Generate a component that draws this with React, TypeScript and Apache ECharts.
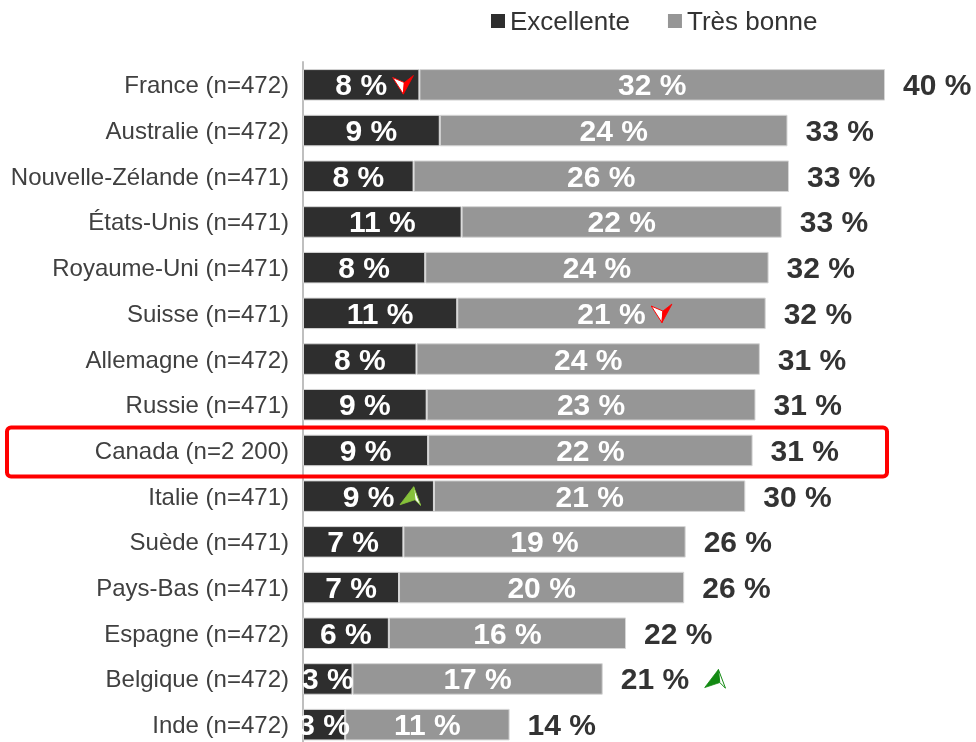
import React, { useEffect, useRef } from "react";
import * as echarts from "echarts";

const categories = [
  "France (n=472)",
  "Australie (n=472)",
  "Nouvelle-Zélande (n=471)",
  "États-Unis (n=471)",
  "Royaume-Uni (n=471)",
  "Suisse (n=471)",
  "Allemagne (n=472)",
  "Russie (n=471)",
  "Canada (n=2 200)",
  "Italie (n=471)",
  "Suède (n=471)",
  "Pays-Bas (n=471)",
  "Espagne (n=472)",
  "Belgique (n=472)",
  "Inde (n=472)",
];

// Excellente (%)
const excellente = [8.0, 9.4, 7.6, 10.9, 8.4, 10.6, 7.8, 8.5, 8.6, 9.0, 6.9, 6.6, 5.9, 3.4, 2.9];
// Très bonne (%)
const tresBonne = [32.0, 23.9, 25.8, 22.0, 23.6, 21.2, 23.6, 22.6, 22.3, 21.4, 19.4, 19.6, 16.3, 17.2, 11.3];

// Trend markers ("" = none)
const excTrend = ["down", "", "", "", "", "", "", "", "", "upLight", "", "", "", "", ""];
const tbTrend = ["", "", "", "", "", "down", "", "", "", "", "", "", "", "", ""];
const totalTrend = ["", "", "", "", "", "", "", "", "", "", "", "", "", "upDark", ""];

const highlight = "Canada (n=2 200)";

const FONT = "'Liberation Sans', Arial, Helvetica, sans-serif";

const svgUri = (s: string) => "data:image/svg+xml;charset=utf-8," + encodeURIComponent(s);

const downSvg = svgUri(
  "<svg xmlns='http://www.w3.org/2000/svg' width='22' height='20' viewBox='0 0 22 20'>" +
    "<polygon points='0.6,2.7 12.3,7.7 11.3,19.3' fill='#ffffff' stroke='#ff0000' stroke-width='1'/>" +
    "<polygon points='12.3,7.7 21.4,0.6 11.3,19.3' fill='#ff0000' stroke='#ff0000' stroke-width='0.8'/>" +
    "</svg>"
);
const upSvg = (c: string) =>
  svgUri(
    "<svg xmlns='http://www.w3.org/2000/svg' width='22' height='20' viewBox='0 0 22 20'>" +
      `<polygon points='14.3,0.6 0.6,18.6 15.7,13.6' fill='${c}' stroke='${c}' stroke-width='0.8'/>` +
      `<polygon points='14.3,0.6 15.7,13.6 21.4,19.3' fill='#ffffff' stroke='${c}' stroke-width='1'/>` +
      "</svg>"
  );

const arrowStyle = (img: string) => ({
  width: 22,
  height: 20,
  verticalAlign: "middle" as const,
  backgroundColor: { image: img },
});

const rich = {
  pad: { width: 27 },
  gap: { width: 5 },
  gap2: { width: 15 },
  down: arrowStyle(downSvg),
  upLight: arrowStyle(upSvg("#86c23a")),
  upDark: arrowStyle(upSvg("#138a13")),
};

const fmt = (v: number) => Math.round(v) + " %";

export default function App() {
  const ref = useRef<HTMLDivElement>(null);

  useEffect(() => {
    if (!ref.current) return;
    const chart = echarts.init(ref.current, null, { renderer: "svg" });
    const totals = excellente.map((v, i) => v + tresBonne[i]);

    const insideLabel = (trend: string[]) => ({
      show: true,
      position: "inside",
      color: "#ffffff",
      fontFamily: FONT,
      fontWeight: "bold",
      fontSize: 30,
      rich,
      formatter: (p: any) => {
        const t = trend[p.dataIndex];
        const txt = fmt(p.value);
        return t ? `{pad|}${txt}{gap|}{${t}|}` : txt;
      },
    });

    chart.setOption({
      animation: false,
      legend: {
        data: ["Excellente", "Très bonne"],
        left: 491,
        top: 8,
        padding: 0,
        icon: "rect",
        itemWidth: 14,
        itemHeight: 14,
        itemGap: 38,
        itemStyle: { borderWidth: 0 },
        textStyle: { fontFamily: FONT, fontSize: 26, color: "#333333" },
      },
      grid: { left: 303, top: 62, width: 654.75, height: 685.5, containLabel: false },
      xAxis: { type: "value", min: 0, max: 45, show: false },
      yAxis: {
        type: "category",
        inverse: true,
        data: categories,
        axisTick: { show: false },
        axisLine: { show: true, lineStyle: { color: "#bfbfbf", width: 2 } },
        axisLabel: { margin: 14, fontFamily: FONT, fontSize: 24, color: "#404040" },
      },
      series: [
        {
          name: "Excellente",
          type: "bar",
          stack: "a",
          barCategoryGap: "31%",
          barGap: "-100%",
          data: excellente,
          itemStyle: { color: "#2e2e2e", borderColor: "#d6d6d6", borderWidth: 1 },
          label: insideLabel(excTrend),
        },
        {
          name: "Très bonne",
          type: "bar",
          stack: "a",
          barCategoryGap: "31%",
          barGap: "-100%",
          data: tresBonne,
          itemStyle: { color: "#969696", borderColor: "#d6d6d6", borderWidth: 1 },
          label: insideLabel(tbTrend),
        },
        {
          name: "Total",
          type: "bar",
          barCategoryGap: "31%",
          barGap: "-100%",
          data: totals,
          silent: true,
          itemStyle: { color: "rgba(0,0,0,0)" },
          label: {
            show: true,
            position: "right",
            distance: 18,
            color: "#333333",
            fontFamily: FONT,
            fontWeight: "bold",
            fontSize: 30,
            rich,
            formatter: (p: any) => {
              const t = totalTrend[p.dataIndex];
              const txt = fmt(p.value);
              return t ? `${txt}{gap2|}{${t}|}` : txt;
            },
          },
        },
      ],
    });

    const cy = chart.convertToPixel({ yAxisIndex: 0 }, highlight) as number;
    chart.setOption({
      graphic: [
        {
          type: "rect",
          z: 100,
          shape: { x: 7, y: cy - 23, width: 880, height: 49, r: 4 },
          style: { fill: "none", stroke: "#ff0000", lineWidth: 4 },
        },
      ],
    });

    return () => chart.dispose();
  }, []);

  return (
    <div
      style={{
        position: "fixed",
        left: 0,
        top: 0,
        width: 976,
        height: 742,
        overflow: "hidden",
      }}
    >
      <div ref={ref} style={{ width: 976, height: 760 }} />
    </div>
  );
}
